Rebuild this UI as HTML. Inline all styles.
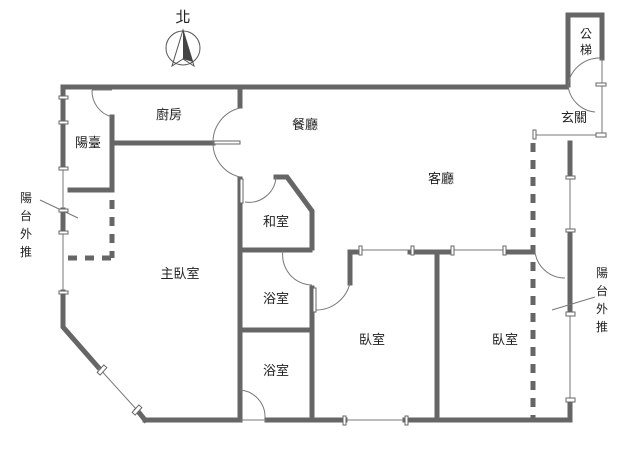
<!DOCTYPE html>
<html><head><meta charset="utf-8"><style>body{margin:0;background:#fff}svg{display:block}text{font-family:"Liberation Sans","Noto Sans CJK TC",sans-serif;fill:#222}</style></head><body>
<svg width="640" height="461" viewBox="0 0 640 461" xmlns="http://www.w3.org/2000/svg">
<g stroke="#666" stroke-width="5" fill="none" stroke-linecap="square">
<polyline points="63,168 63,87 566,87"/>
<line x1="63" y1="210" x2="63" y2="232"/>
<polyline points="63,292 63,327 98,367"/>
<line x1="137" y1="410" x2="145" y2="420"/>
<polyline points="145,420 240,420"/>
<line x1="267" y1="420" x2="345" y2="420"/>
<line x1="405" y1="420" x2="570" y2="420"/>
<line x1="570" y1="420" x2="570" y2="402"/>
<line x1="570" y1="312" x2="570" y2="232"/>
<line x1="570" y1="177" x2="570" y2="143"/>
<polyline points="568,85 568,15 602,15 602,58"/>
<line x1="112" y1="117" x2="112" y2="190"/>
<line x1="112" y1="143" x2="213" y2="143"/>
<line x1="70" y1="190" x2="112" y2="190"/>
<line x1="240" y1="87" x2="240" y2="106"/>
<line x1="240" y1="179" x2="240" y2="420"/>
<polyline points="276,177 287,177 312,211 312,248"/>
<line x1="240" y1="250" x2="310" y2="250"/>
<line x1="240" y1="330" x2="310" y2="330"/>
<line x1="312" y1="288" x2="312" y2="420"/>
<polyline points="350,283 350,252 357,252"/>
<line x1="410" y1="252" x2="452" y2="252"/>
<line x1="505" y1="252" x2="533" y2="252"/>
<line x1="437" y1="252" x2="437" y2="420"/>
</g>
<g stroke="#666" stroke-width="5" fill="none" stroke-dasharray="9,8">
<line x1="533" y1="143" x2="533" y2="420"/>
<line x1="112" y1="200" x2="112" y2="258"/>
<line x1="68" y1="258" x2="112" y2="258"/>
</g>
<g stroke="#777" stroke-width="1" fill="none">
<line x1="63" y1="168" x2="63" y2="210"/>
<line x1="63" y1="232" x2="63" y2="292"/>
<line x1="98" y1="367" x2="137" y2="410"/>
<line x1="345" y1="420" x2="405" y2="420"/>
<line x1="357" y1="250" x2="410" y2="250"/>
<line x1="452" y1="250" x2="505" y2="250"/>
<line x1="570" y1="312" x2="570" y2="402"/>
<line x1="570" y1="177" x2="570" y2="232"/>
<line x1="602" y1="58" x2="602" y2="135"/>
<line x1="535" y1="135" x2="602" y2="135"/>
<line x1="240" y1="420" x2="267" y2="420"/>
<line x1="92" y1="90" x2="112" y2="90"/>
<path d="M112,117 A27,27 0 0 1 92,90"/>
<path d="M240,108 A35,35 0 0 0 213,143 A35,35 0 0 0 240,177"/>
<path d="M245,202 A27,27 0 0 0 276,177"/>
<path d="M283,250 A30,30 0 0 0 312,285"/>
<path d="M350,283 A35,35 0 0 1 315,310"/>
<path d="M240,390 A27,27 0 0 1 265,418"/>
<path d="M568,85 A32,32 0 0 1 600,58"/>
<path d="M568,85 A30,30 0 0 0 595,112"/>
<path d="M535,252 A30,30 0 0 0 565,278"/>
<line x1="40" y1="200" x2="78" y2="218"/>
<line x1="552" y1="310" x2="595" y2="297"/>
</g>
<g fill="#fff" stroke="#666" stroke-width="1">
<rect x="59" y="96" width="9" height="3"/><rect x="59" y="121" width="9" height="3"/><rect x="59" y="167" width="9" height="3"/><rect x="59" y="209" width="9" height="3"/><rect x="59" y="231" width="9" height="3"/><rect x="59" y="291" width="9" height="3"/>
<rect x="343" y="416" width="3" height="9"/><rect x="405" y="416" width="3" height="9"/>
<rect x="359" y="246" width="3" height="9"/><rect x="411" y="246" width="3" height="9"/><rect x="451" y="246" width="3" height="9"/><rect x="503" y="246" width="3" height="9"/>
<rect x="566" y="176" width="9" height="3"/><rect x="566" y="229" width="9" height="3"/><rect x="566" y="312" width="9" height="4"/><rect x="566" y="398" width="9" height="4"/>
<rect x="596" y="83" width="10" height="3"/><rect x="596" y="133" width="10" height="4"/><rect x="533" y="130" width="3" height="9"/>
<rect x="214" y="141" width="26" height="3"/><rect x="240" y="179" width="3" height="24"/><rect x="313" y="288" width="3" height="24"/>
</g>
<g transform="rotate(-48 102 370)"><rect x="97" y="368" width="10" height="4" fill="#fff" stroke="#666"/></g>
<g transform="rotate(-48 137 410)"><rect x="132" y="408" width="10" height="4" fill="#fff" stroke="#666"/></g>
<circle cx="183" cy="48" r="17" fill="none" stroke="#555" stroke-width="1"/>
<polygon points="183,30 172,66 183,59 194,66" fill="none" stroke="#555"/>
<polygon points="183,30 183,59 193,62" fill="#444"/>
<text x="183" y="22" font-size="15" text-anchor="middle">北</text>
<g font-size="13" text-anchor="middle">
<text x="169" y="119">廚房</text>
<text x="88" y="147">陽臺</text>
<text x="305" y="129">餐廳</text>
<text x="441" y="183">客廳</text>
<text x="276" y="226">和室</text>
<text x="180" y="278">主臥室</text>
<text x="276" y="303">浴室</text>
<text x="276" y="375">浴室</text>
<text x="372" y="344">臥室</text>
<text x="505" y="344">臥室</text>
<text x="574" y="122">玄關</text>
</g>
<g font-size="12" text-anchor="middle">
<text x="586" y="38">公</text><text x="586" y="54">梯</text>
<text x="26" y="202">陽</text><text x="26" y="220">台</text><text x="26" y="238">外</text><text x="26" y="256">推</text>
<text x="602" y="277">陽</text><text x="602" y="295">台</text><text x="602" y="313">外</text><text x="602" y="331">推</text>
</g>
</svg>
</body></html>
